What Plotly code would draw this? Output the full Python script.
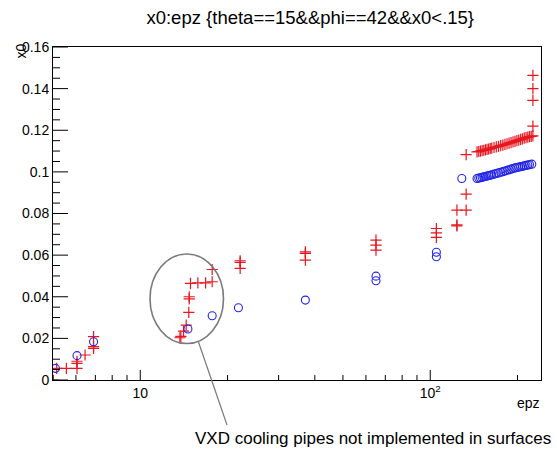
import math
import plotly.graph_objects as go

# ---- data ----
red_epz = [5.0, 5.15, 5.56, 6.05, 6.05, 6.05, 6.45, 6.9, 6.9, 6.9,
           13.7, 13.8, 14.1, 14.4, 14.7, 14.75, 14.75, 14.9, 15.8, 16.8, 17.7, 17.7,
           22.1, 22.1, 22.1, 37.1, 37.1, 37.1, 65, 65, 65, 105, 105, 105,
           123.6, 123.6, 123.6, 133, 133, 133,
           226, 226, 226, 226]
red_x0 = [0.0, 0.0056, 0.0056, 0.0056, 0.0080, 0.0090, 0.0120, 0.0152, 0.0160, 0.0208,
          0.0203, 0.0210, 0.0235, 0.0264, 0.0325, 0.0390, 0.0400, 0.0464, 0.0467, 0.0467, 0.0472, 0.0531,
          0.0536, 0.0565, 0.0573, 0.0576, 0.0608, 0.0616, 0.0624, 0.0648, 0.0672, 0.0685, 0.0707, 0.0728,
          0.0741, 0.0745, 0.0816, 0.0816, 0.0893, 0.1083,
          0.1220, 0.1344, 0.1400, 0.1464]

red_band_epz = [145, 147, 149, 151, 153, 155, 157, 159, 161, 163, 166, 169, 172, 175, 178,
                181, 184, 187, 190, 193, 196, 199, 202, 205, 208, 211, 214, 217, 220, 223, 226]
red_band_x0 = [0.1096, 0.1098, 0.1100, 0.1102, 0.1104, 0.1106, 0.1108, 0.1110, 0.1112, 0.1114,
               0.1117, 0.1120, 0.1123, 0.1126, 0.1129, 0.1132, 0.1135, 0.1138, 0.1141, 0.1144,
               0.1147, 0.1150, 0.1153, 0.1156, 0.1159, 0.1162, 0.1165, 0.1167, 0.1169, 0.1171, 0.1173]

blue_epz = [5.1, 6.05, 6.9, 14.6, 17.7, 21.8, 37.1, 65, 65, 105, 105, 128.5]
blue_x0 = [0.0056, 0.0117, 0.0184, 0.0245, 0.0309, 0.0347, 0.0384, 0.0477, 0.0499, 0.0592, 0.0614, 0.0968]

blue_band_epz = [145, 147, 149, 151, 153, 155, 157, 159, 161, 163, 166, 169, 172, 175, 178,
                 181, 184, 187, 190, 193, 196, 199, 202, 205, 208, 211, 214, 217, 220, 224]
blue_band_x0 = [0.0968, 0.0970, 0.0972, 0.0974, 0.0976, 0.0978, 0.0980, 0.0982, 0.0984, 0.0986,
                0.0989, 0.0992, 0.0995, 0.0998, 0.1001, 0.1004, 0.1007, 0.1010, 0.1013, 0.1016,
                0.1019, 0.1021, 0.1023, 0.1025, 0.1027, 0.1029, 0.1031, 0.1033, 0.1035, 0.1037]

x_tickvals = [10, 100]
x_ticktext = ["10", "10<sup>2</sup>"]
x_minor_vals = [5, 6, 7, 8, 9, 20, 30, 40, 50, 60, 70, 80, 90, 200]
y_tickvals = [0, 0.02, 0.04, 0.06, 0.08, 0.1, 0.12, 0.14, 0.16]
y_ticktext = ["0", "0.02", "0.04", "0.06", "0.08", "0.1", "0.12", "0.14", "0.16"]
y_minor_vals = [0.005, 0.01, 0.015, 0.025, 0.03, 0.035, 0.045, 0.05, 0.055, 0.065, 0.07, 0.075,
                0.085, 0.09, 0.095, 0.105, 0.11, 0.115, 0.125, 0.13, 0.135, 0.145, 0.15, 0.155]

title = "x0:epz {theta==15&&phi==42&&x0<.15}"
note = "VXD cooling pipes not implemented in surfaces"

RED = "#e8161e"
BLUE = "#2323e8"
FONT = "Liberation Sans, Arial, Helvetica, sans-serif"
XR = [0.699, 2.382]
YR = [0, 0.16]

W, H = 557, 454
L, R, T, B = 53, 16, 47, 74
pw, ph = W - L - R, H - T - B


def px(x):
    return (x - L) / pw


def py(y):
    return (H - B - y) / ph


def xfrac(v):
    return (math.log10(v) - XR[0]) / (XR[1] - XR[0])


def yfrac(v):
    return (v - YR[0]) / (YR[1] - YR[0])


fig = go.Figure()

# tick marks: segments on a hidden [0,1] x [0,1] overlay, positions derived from the tick lists
tx, ty = [], []
for vals, length in ((x_tickvals, 10), (x_minor_vals, 5)):
    for v in vals:
        tx += [xfrac(v), xfrac(v), None]
        ty += [0, length / ph, None]
for vals, length in ((y_tickvals, 15), (y_minor_vals, 7)):
    for v in vals:
        tx += [0, length / pw, None]
        ty += [yfrac(v), yfrac(v), None]
fig.add_trace(go.Scatter(x=tx, y=ty, xaxis="x2", yaxis="y2", mode="lines",
                         line=dict(color="#000000", width=1), hoverinfo="skip",
                         showlegend=False, cliponaxis=False))

fig.add_trace(go.Scatter(x=red_epz + red_band_epz, y=red_x0 + red_band_x0, mode="markers",
                         marker=dict(symbol="cross-thin-open", size=8, color=RED,
                                     line=dict(color=RED, width=1.2)),
                         showlegend=False))
fig.add_trace(go.Scatter(x=blue_epz + blue_band_epz, y=blue_x0 + blue_band_x0, mode="markers",
                         marker=dict(symbol="circle-open", size=8, color=BLUE,
                                     line=dict(color=BLUE, width=1.1)),
                         showlegend=False))

fig.update_layout(
    template="none",
    width=W, height=H,
    margin=dict(l=L, r=R, t=T, b=B, autoexpand=False),
    paper_bgcolor="white", plot_bgcolor="white",
    font=dict(family=FONT, size=14, color="black"),
    title=dict(text=title, x=0.557, xanchor="center", y=1 - 18 / H, yanchor="middle",
               font=dict(size=18.5, family=FONT)),
    xaxis=dict(type="log", range=XR, showgrid=False, zeroline=False,
               tickmode="array", tickvals=x_tickvals, ticktext=x_ticktext,
               ticks="", showline=True, linecolor="#000000", linewidth=1, mirror=True,
               tickfont=dict(size=14)),
    yaxis=dict(range=YR, showgrid=False, zeroline=False,
               tickmode="array", tickvals=y_tickvals, ticktext=y_ticktext,
               ticks="", showline=True, linecolor="#000000", linewidth=1, mirror=True,
               tickfont=dict(size=14)),
    xaxis2=dict(range=[0, 1], overlaying="x", visible=False, fixedrange=True),
    yaxis2=dict(range=[0, 1], overlaying="y", visible=False, fixedrange=True),
)

fig.add_annotation(text="x0", xref="paper", yref="paper", x=px(20), y=py(42),
                   xanchor="center", yanchor="top", textangle=-90, showarrow=False,
                   font=dict(size=14, family=FONT))
fig.add_annotation(text="epz", xref="paper", yref="paper", x=px(542), y=py(403),
                   xanchor="right", yanchor="middle", showarrow=False,
                   font=dict(size=14, family=FONT))
fig.add_annotation(text=note, xref="paper", yref="paper", x=px(373), y=py(438),
                   xanchor="center", yanchor="middle", showarrow=False,
                   font=dict(size=17, family=FONT))

fig.add_shape(type="circle", xref="paper", yref="paper",
              x0=px(150), x1=px(223.5), y0=py(343.5), y1=py(254),
              line=dict(color="#7a7a7a", width=1.6))
fig.add_shape(type="line", xref="paper", yref="paper",
              x0=px(198.5), y0=py(342), x1=px(227), y1=py(425),
              line=dict(color="#7a7a7a", width=1.2))

fig.write_html("out.html")
